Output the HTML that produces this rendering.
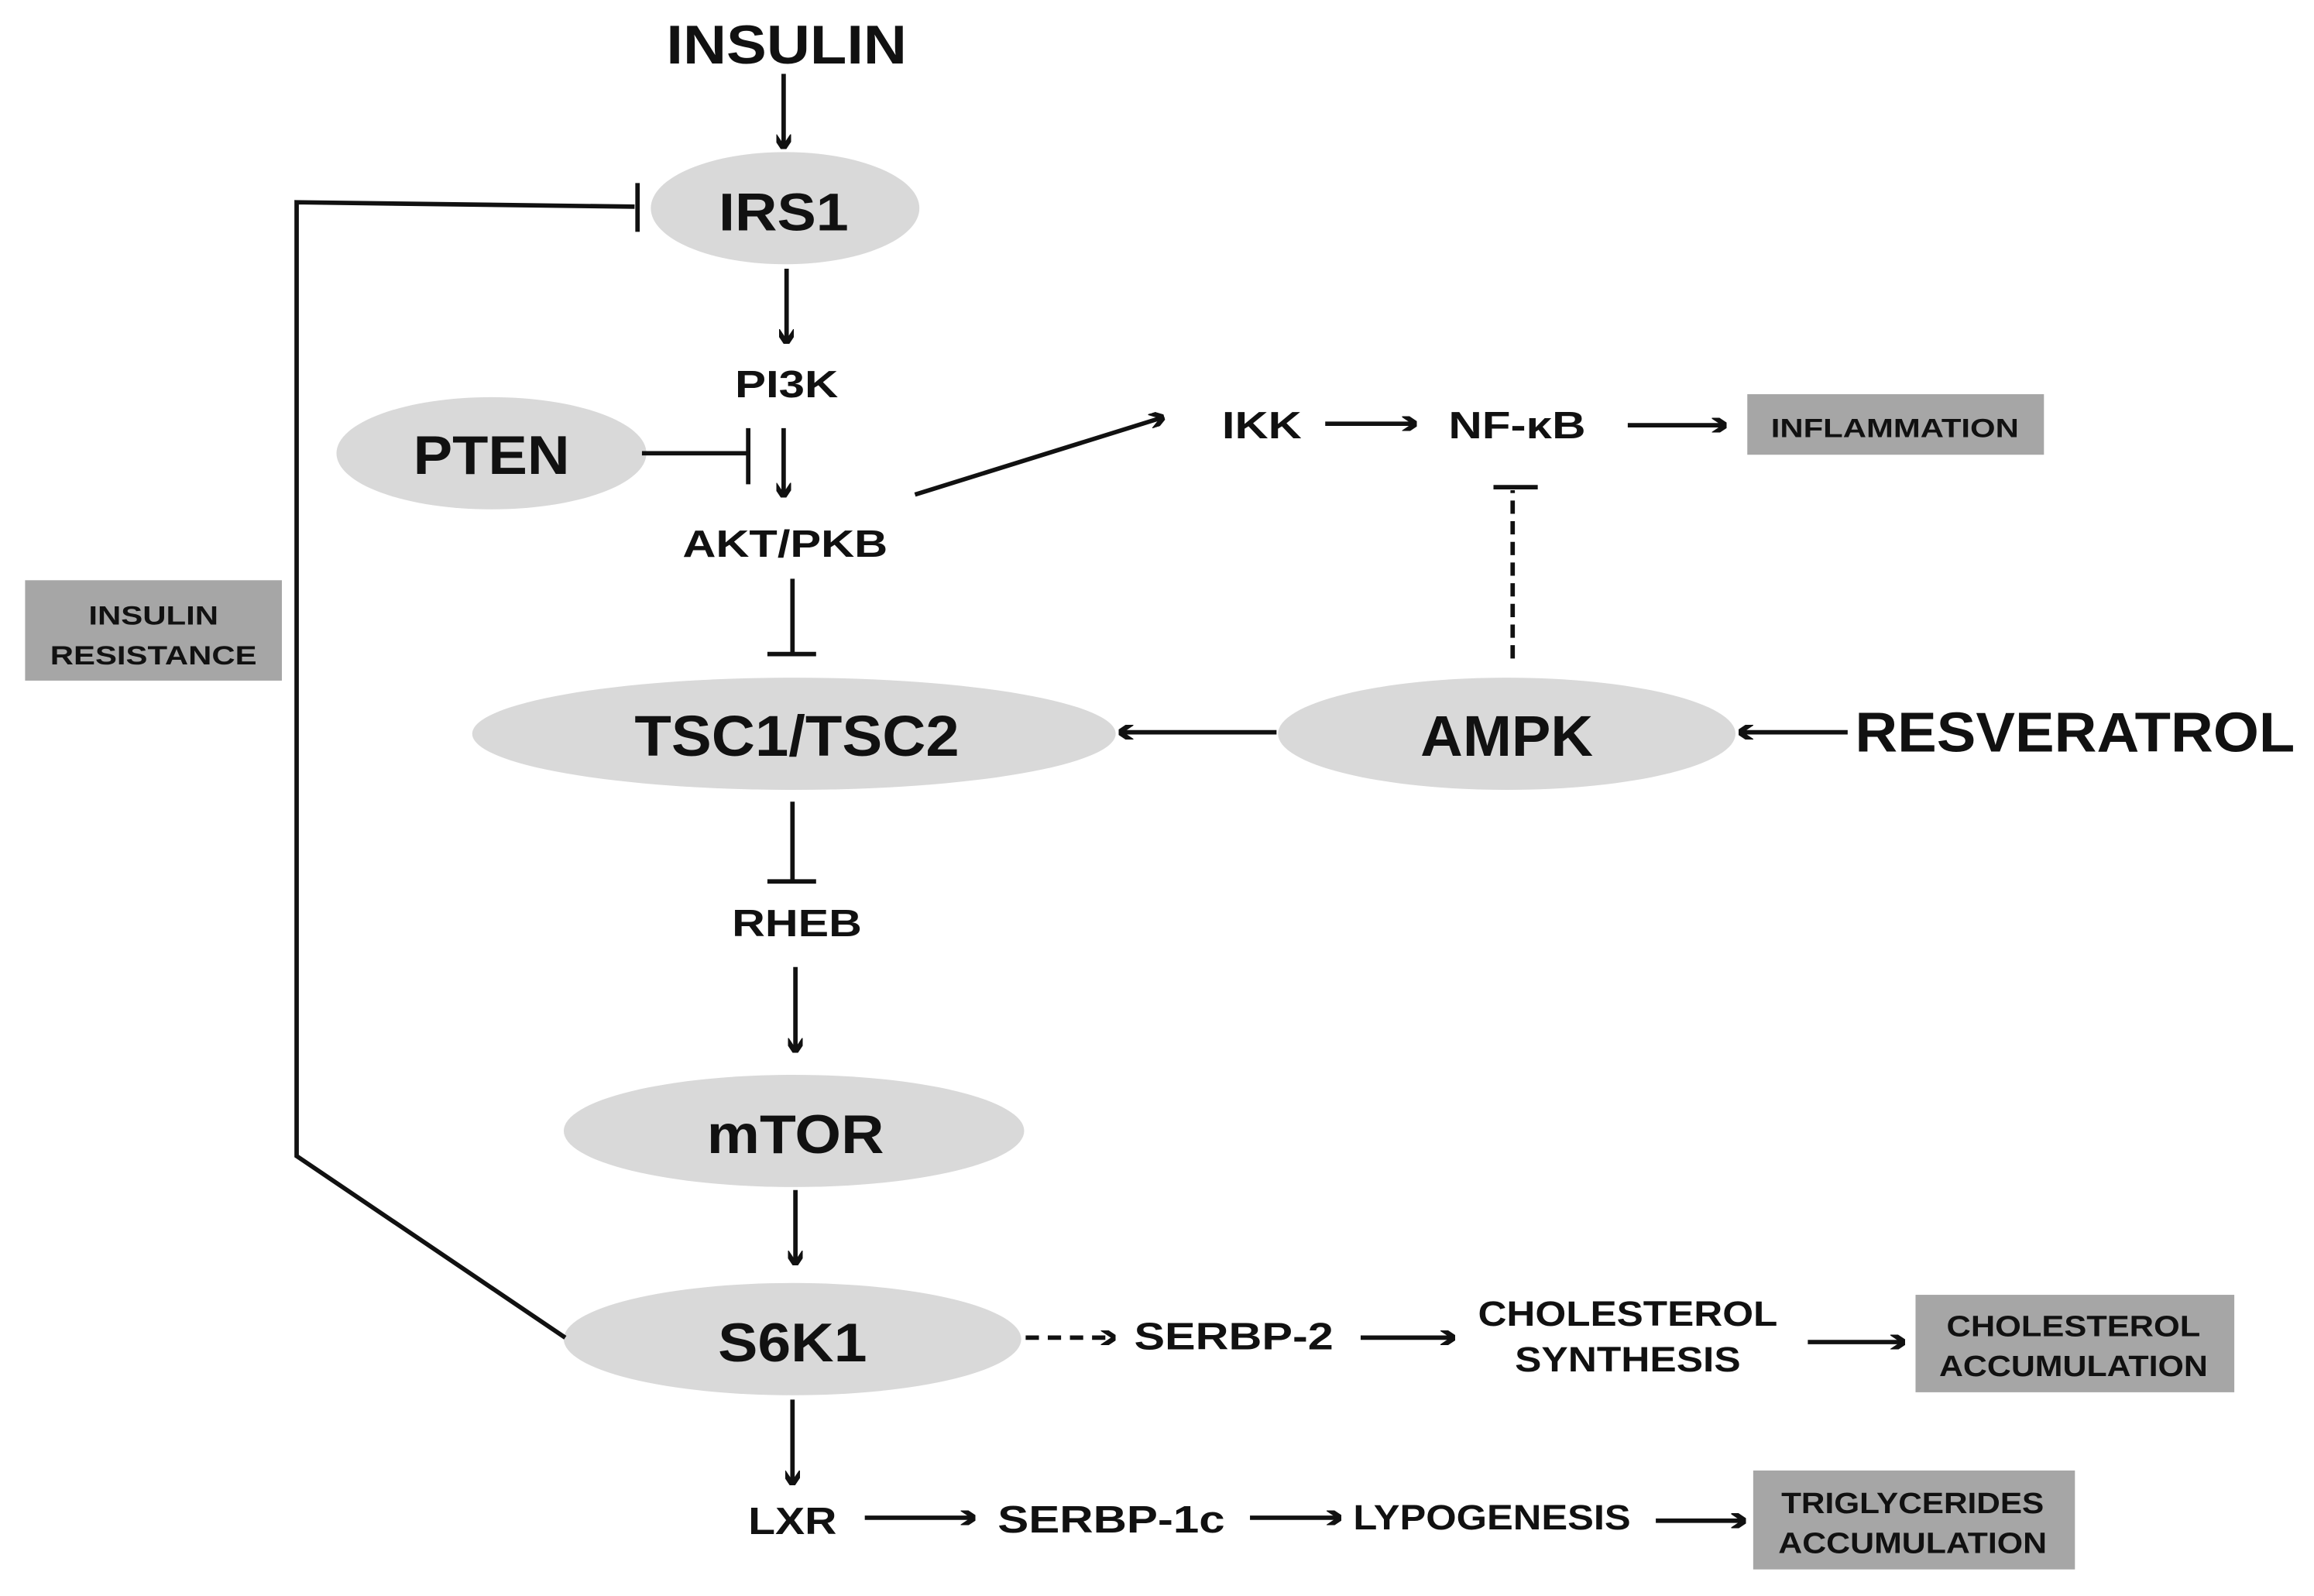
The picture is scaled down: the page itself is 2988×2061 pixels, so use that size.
<!DOCTYPE html>
<html><head><meta charset="utf-8"><style>html,body{margin:0;padding:0;background:#fff}svg{display:block}text{font-family:"Liberation Sans",sans-serif;font-weight:bold;fill:#111}</style></head><body>
<svg width="2988" height="2061" viewBox="0 0 1568 1081" preserveAspectRatio="none" xmlns="http://www.w3.org/2000/svg">
<defs><marker id="a" markerWidth="10" markerHeight="10" refX="8" refY="5" orient="auto" markerUnits="userSpaceOnUse"><path d="M0,-1 L9,5 L0,11" fill="none" stroke="#111" stroke-width="2.6" transform="scale(1.3) translate(-1.5,-1.1)"/></marker></defs>
<g fill="#d9d9d9">
<ellipse cx="532" cy="141" rx="91" ry="38"/>
<ellipse cx="333" cy="307" rx="105" ry="38"/>
<ellipse cx="538" cy="497" rx="218" ry="38"/>
<ellipse cx="1021" cy="497" rx="155" ry="38"/>
<ellipse cx="538" cy="766" rx="156" ry="38"/>
<ellipse cx="537" cy="907" rx="155" ry="38"/>
</g>
<g fill="#a6a6a6">
<rect x="1184" y="267" width="201" height="41"/>
<rect x="17" y="393" width="174" height="68"/>
<rect x="1298" y="877" width="216" height="66"/>
<rect x="1188" y="996" width="218" height="67"/>
</g>
<g stroke="#111" stroke-width="3" fill="none">
<line x1="531" y1="50" x2="531" y2="99" marker-end="url(#a)"/>
<line x1="533" y1="182" x2="533" y2="231" marker-end="url(#a)"/>
<line x1="435" y1="307" x2="506" y2="307"/><line x1="507" y1="290" x2="507" y2="328"/>
<line x1="531" y1="290" x2="531" y2="335" marker-end="url(#a)"/>
<line x1="620" y1="335" x2="787" y2="283" marker-end="url(#a)"/>
<line x1="898" y1="287" x2="958" y2="287" marker-end="url(#a)"/>
<line x1="1103" y1="288" x2="1168" y2="288" marker-end="url(#a)"/>
<line x1="1025" y1="446" x2="1025" y2="332" stroke-dasharray="9,5"/><line x1="1012" y1="330" x2="1042" y2="330"/>
<line x1="537" y1="392" x2="537" y2="442"/><line x1="520" y1="443" x2="553" y2="443"/>
<line x1="865" y1="496" x2="760" y2="496" marker-end="url(#a)"/>
<line x1="1252" y1="496" x2="1180" y2="496" marker-end="url(#a)"/>
<line x1="537" y1="543" x2="537" y2="596"/><line x1="520" y1="597" x2="553" y2="597"/>
<line x1="539" y1="655" x2="539" y2="711" marker-end="url(#a)"/>
<line x1="539" y1="806" x2="539" y2="855" marker-end="url(#a)"/>
<polyline points="383,906 201,783 201,137 430,140"/><line x1="432" y1="124" x2="432" y2="157"/>
<line x1="695" y1="906" x2="754" y2="906" stroke-dasharray="9,6" marker-end="url(#a)"/>
<line x1="922" y1="906" x2="984" y2="906" marker-end="url(#a)"/>
<line x1="1225" y1="909" x2="1289" y2="909" marker-end="url(#a)"/>
<line x1="537" y1="948" x2="537" y2="1004" marker-end="url(#a)"/>
<line x1="586" y1="1028" x2="659" y2="1028" marker-end="url(#a)"/>
<line x1="847" y1="1028" x2="907" y2="1028" marker-end="url(#a)"/>
<line x1="1122" y1="1030" x2="1181" y2="1030" marker-end="url(#a)"/>
</g>
<g text-anchor="middle">
<text x="533" y="43" font-size="37" textLength="163" lengthAdjust="spacingAndGlyphs">INSULIN</text>
<text x="531" y="156" font-size="36" textLength="88" lengthAdjust="spacingAndGlyphs">IRS1</text>
<text x="533" y="269" font-size="26" textLength="70" lengthAdjust="spacingAndGlyphs">PI3K</text>
<text x="333" y="321" font-size="37" textLength="106" lengthAdjust="spacingAndGlyphs">PTEN</text>
<text x="532" y="377" font-size="26" textLength="139" lengthAdjust="spacingAndGlyphs">AKT/PKB</text>
<text x="855" y="297" font-size="26" textLength="54" lengthAdjust="spacingAndGlyphs">IKK</text>
<text x="1028" y="297" font-size="26" textLength="93" lengthAdjust="spacingAndGlyphs">NF-κB</text>
<text x="1284" y="296" font-size="18" textLength="168" lengthAdjust="spacingAndGlyphs">INFLAMMATION</text>
<text x="104" y="423" font-size="18" textLength="88" lengthAdjust="spacingAndGlyphs">INSULIN</text>
<text x="104" y="450" font-size="18" textLength="140" lengthAdjust="spacingAndGlyphs">RESISTANCE</text>
<text x="540" y="512" font-size="39" textLength="220" lengthAdjust="spacingAndGlyphs">TSC1/TSC2</text>
<text x="1021" y="512" font-size="39" textLength="117" lengthAdjust="spacingAndGlyphs">AMPK</text>
<text x="1406" y="509" font-size="38" textLength="298" lengthAdjust="spacingAndGlyphs">RESVERATROL</text>
<text x="540" y="634" font-size="26" textLength="88" lengthAdjust="spacingAndGlyphs">RHEB</text>
<text x="539" y="781" font-size="37" textLength="120" lengthAdjust="spacingAndGlyphs">mTOR</text>
<text x="537" y="922" font-size="37" textLength="101" lengthAdjust="spacingAndGlyphs">S6K1</text>
<text x="836" y="914" font-size="26" textLength="135" lengthAdjust="spacingAndGlyphs">SERBP-2</text>
<text x="1103" y="898" font-size="24" textLength="203" lengthAdjust="spacingAndGlyphs">CHOLESTEROL</text>
<text x="1103" y="929" font-size="24" textLength="153" lengthAdjust="spacingAndGlyphs">SYNTHESIS</text>
<text x="1405" y="905" font-size="20" textLength="172" lengthAdjust="spacingAndGlyphs">CHOLESTEROL</text>
<text x="1405" y="932" font-size="20" textLength="182" lengthAdjust="spacingAndGlyphs">ACCUMULATION</text>
<text x="537" y="1039" font-size="26" textLength="60" lengthAdjust="spacingAndGlyphs">LXR</text>
<text x="753" y="1038" font-size="26" textLength="154" lengthAdjust="spacingAndGlyphs">SERBP-1c</text>
<text x="1011" y="1036" font-size="24" textLength="188" lengthAdjust="spacingAndGlyphs">LYPOGENESIS</text>
<text x="1296" y="1025" font-size="20" textLength="178" lengthAdjust="spacingAndGlyphs">TRIGLYCERIDES</text>
<text x="1296" y="1052" font-size="20" textLength="182" lengthAdjust="spacingAndGlyphs">ACCUMULATION</text>
</g>
</svg>
</body></html>
